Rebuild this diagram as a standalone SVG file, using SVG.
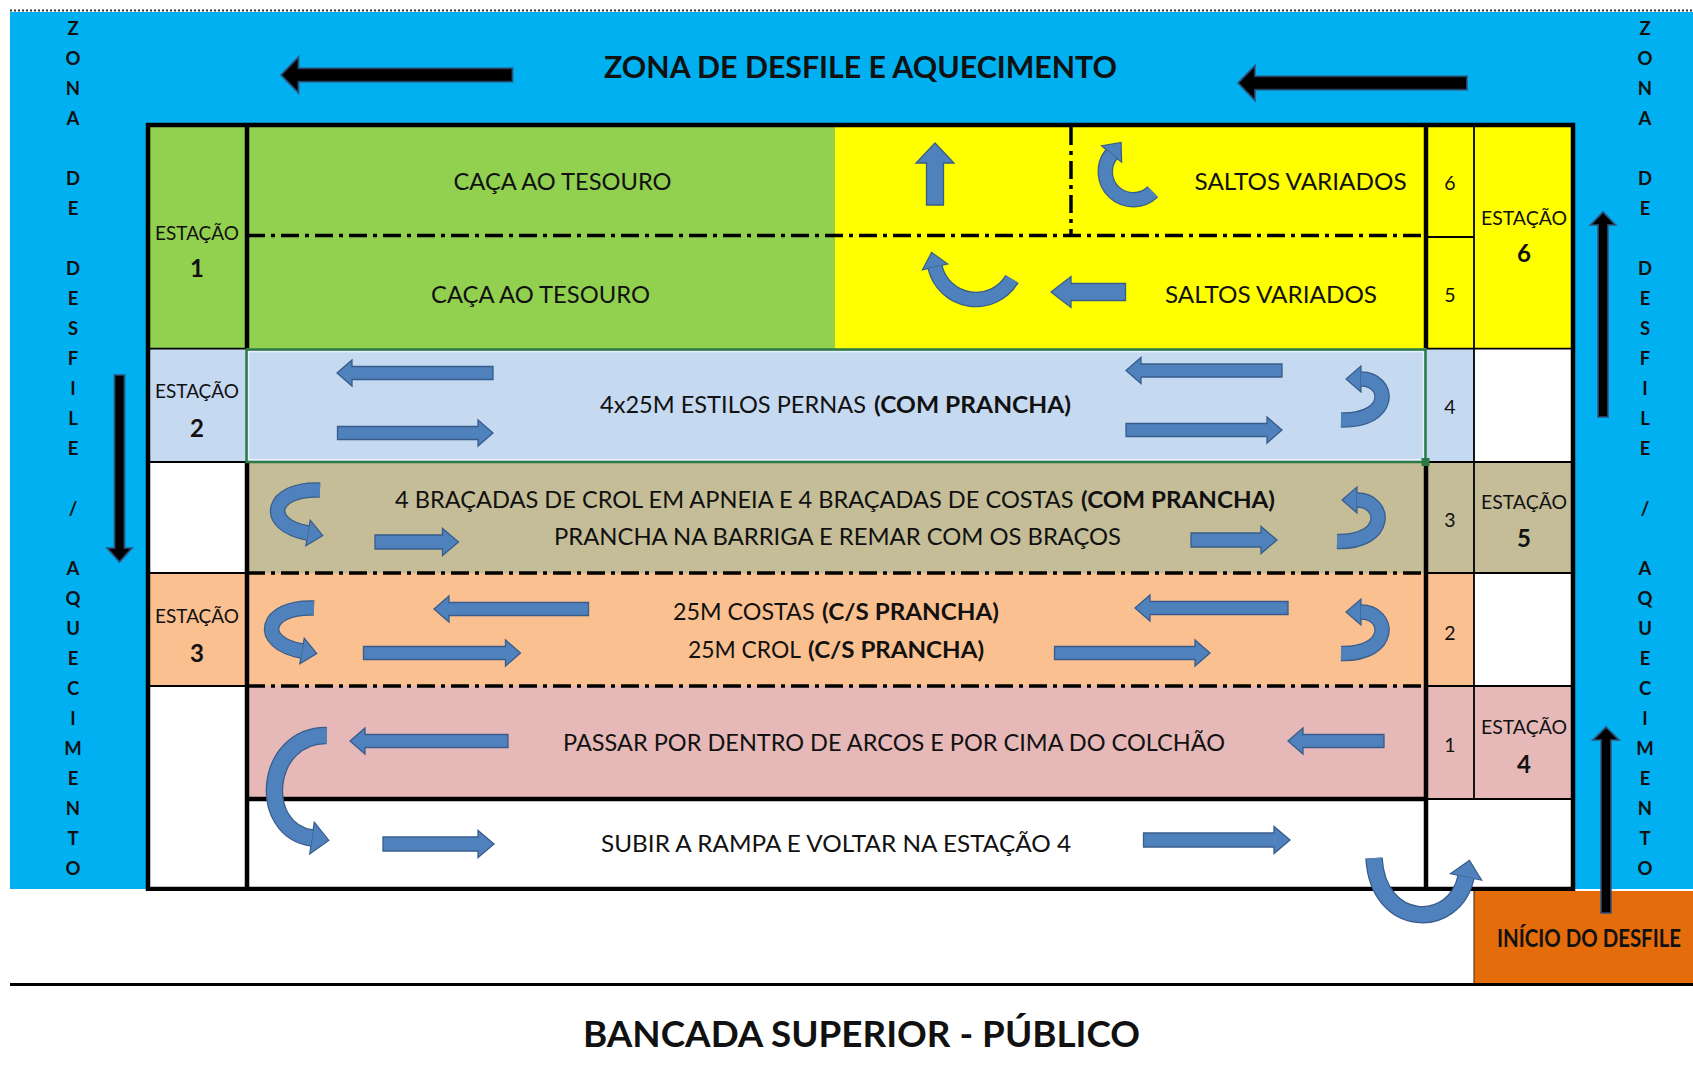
<svg xmlns="http://www.w3.org/2000/svg" width="1693" height="1073" viewBox="0 0 1693 1073">
<style>
text{font-family:Lato,"Open Sans","Liberation Sans",sans-serif;fill:#111}
.t{font-size:23px}
.b{font-weight:700}
.est{font-size:19px}
.num{font-size:24px;font-weight:700;text-anchor:middle}
.nc{font-size:19.5px;text-anchor:middle}
.vl{font-size:18.5px;font-weight:700;text-anchor:middle}
.thick{stroke:#000;stroke-width:4.5;fill:none}
.thin{stroke:#000;stroke-width:1.8;fill:none}
.dd{stroke:#000;stroke-width:3.5;stroke-dasharray:18 6 4 6;fill:none}
.ba{fill:#4F81BD;stroke:#385D8A;stroke-width:1.3}
.co{fill:none;stroke:#385D8A;stroke-width:15.5;marker-end:url(#hb)}
.ci{fill:none;stroke:#4F81BD;stroke-width:13}
.co2{fill:none;stroke:#385D8A;stroke-width:17.5;marker-end:url(#hb2)}
.ci2{fill:none;stroke:#4F81BD;stroke-width:15}
.bk{fill:#000;stroke:#34507A;stroke-width:2;stroke-opacity:0.75}
.green{fill:#92D050}.yellow{fill:#FFFF00}.lblue{fill:#C5D9F1}.tan{fill:#C4BD97}.peach{fill:#FAC090}.pink{fill:#E6B9B8}.white{fill:#FFFFFF}
</style>
<defs>
<marker id="hb" viewBox="-2 -15 20 30" refX="0" refY="0" markerWidth="20" markerHeight="30" markerUnits="userSpaceOnUse" orient="auto">
<path d="M0,-13 L15,0 L0,13 Z" fill="#4F81BD" stroke="#385D8A" stroke-width="1.2"/>
</marker>
<marker id="hb2" viewBox="-2 -18 22 36" refX="0" refY="0" markerWidth="22" markerHeight="36" markerUnits="userSpaceOnUse" orient="auto">
<path d="M0,-16 L17,0 L0,16 Z" fill="#4F81BD" stroke="#385D8A" stroke-width="1.2"/>
</marker>
</defs>

<g id="background">
<rect x="0" y="0" width="1693" height="1073" fill="#FFFFFF"/>
<rect x="10" y="12" width="1683" height="877" fill="#00B0F0"/>
<line x1="10" y1="10.5" x2="1693" y2="10.5" stroke="#333" stroke-width="2" stroke-dasharray="2 2"/>
<rect x="148" y="125" width="1425" height="764" fill="#FFFFFF"/>
</g>

<g id="zona-desfile-aquecimento">
<text x="604" y="78.3" class="b" font-size="30" textLength="513" lengthAdjust="spacingAndGlyphs">ZONA DE DESFILE E AQUECIMENTO</text>
</g>

<g id="zona-lateral-esquerda">
<text class="vl"><tspan x="73" y="34.8">Z</tspan><tspan x="73" y="64.8">O</tspan><tspan x="73" y="94.8">N</tspan><tspan x="73" y="124.8">A</tspan><tspan x="73" y="184.8">D</tspan><tspan x="73" y="214.8">E</tspan><tspan x="73" y="274.8">D</tspan><tspan x="73" y="304.8">E</tspan><tspan x="73" y="334.8">S</tspan><tspan x="73" y="364.8">F</tspan><tspan x="73" y="394.8">I</tspan><tspan x="73" y="424.8">L</tspan><tspan x="73" y="454.8">E</tspan><tspan x="73" y="514.8">/</tspan><tspan x="73" y="574.8">A</tspan><tspan x="73" y="604.8">Q</tspan><tspan x="73" y="634.8">U</tspan><tspan x="73" y="664.8">E</tspan><tspan x="73" y="694.8">C</tspan><tspan x="73" y="724.8">I</tspan><tspan x="73" y="754.8">M</tspan><tspan x="73" y="784.8">E</tspan><tspan x="73" y="814.8">N</tspan><tspan x="73" y="844.8">T</tspan><tspan x="73" y="874.8">O</tspan></text>
</g>

<g id="zona-lateral-direita">
<text class="vl"><tspan x="1645" y="34.8">Z</tspan><tspan x="1645" y="64.8">O</tspan><tspan x="1645" y="94.8">N</tspan><tspan x="1645" y="124.8">A</tspan><tspan x="1645" y="184.8">D</tspan><tspan x="1645" y="214.8">E</tspan><tspan x="1645" y="274.8">D</tspan><tspan x="1645" y="304.8">E</tspan><tspan x="1645" y="334.8">S</tspan><tspan x="1645" y="364.8">F</tspan><tspan x="1645" y="394.8">I</tspan><tspan x="1645" y="424.8">L</tspan><tspan x="1645" y="454.8">E</tspan><tspan x="1645" y="514.8">/</tspan><tspan x="1645" y="574.8">A</tspan><tspan x="1645" y="604.8">Q</tspan><tspan x="1645" y="634.8">U</tspan><tspan x="1645" y="664.8">E</tspan><tspan x="1645" y="694.8">C</tspan><tspan x="1645" y="724.8">I</tspan><tspan x="1645" y="754.8">M</tspan><tspan x="1645" y="784.8">E</tspan><tspan x="1645" y="814.8">N</tspan><tspan x="1645" y="844.8">T</tspan><tspan x="1645" y="874.8">O</tspan></text>
</g>

<g id="estacao-1">
<rect x="148" y="125" width="99" height="224" class="green"/>
<text x="155" y="240" class="est" textLength="84" lengthAdjust="spacingAndGlyphs">ESTAÇÃO</text>
<text x="197" y="277" class="num">1</text>
</g>
<g id="estacao-2">
<rect x="148" y="349" width="99" height="113" class="lblue"/>
<text x="155" y="398" class="est" textLength="84" lengthAdjust="spacingAndGlyphs">ESTAÇÃO</text>
<text x="197" y="437" class="num">2</text>
</g>
<g id="estacao-3">
<rect x="148" y="573" width="99" height="113" class="peach"/>
<text x="155" y="623" class="est" textLength="84" lengthAdjust="spacingAndGlyphs">ESTAÇÃO</text>
<text x="197" y="662" class="num">3</text>
</g>

<g id="linha-6">
<rect x="247" y="125" width="588" height="111" class="green"/>
<rect x="835" y="125" width="591" height="111" class="yellow"/>
<rect x="1426" y="125" width="48" height="112" class="yellow"/>
<text x="453.5" y="190" class="t" textLength="218" lengthAdjust="spacingAndGlyphs">CAÇA AO TESOURO</text>
<text x="1194.6" y="190" class="t" textLength="212" lengthAdjust="spacingAndGlyphs">SALTOS VARIADOS</text>
<text x="1450" y="190" class="nc">6</text>
</g>
<g id="linha-5">
<rect x="247" y="236" width="588" height="113" class="green"/>
<rect x="835" y="236" width="591" height="113" class="yellow"/>
<rect x="1426" y="237" width="48" height="112" class="yellow"/>
<text x="431" y="303" class="t" textLength="219" lengthAdjust="spacingAndGlyphs">CAÇA AO TESOURO</text>
<text x="1165" y="303" class="t" textLength="212" lengthAdjust="spacingAndGlyphs">SALTOS VARIADOS</text>
<text x="1450" y="302" class="nc">5</text>
</g>
<g id="linha-4">
<rect x="247" y="349" width="1179" height="113" class="lblue"/>
<rect x="1426" y="349" width="48" height="113" class="lblue"/>
<text x="600" y="413" class="t" textLength="266" lengthAdjust="spacingAndGlyphs">4x25M ESTILOS PERNAS</text>
<text x="874" y="413" class="t b" textLength="197" lengthAdjust="spacingAndGlyphs">(COM PRANCHA)</text>
<text x="1450" y="414" class="nc">4</text>
</g>
<g id="linha-3">
<rect x="247" y="462" width="1179" height="111" class="tan"/>
<rect x="1426" y="462" width="48" height="111" class="tan"/>
<text x="395" y="508" class="t" textLength="678.6" lengthAdjust="spacingAndGlyphs">4 BRAÇADAS DE CROL EM APNEIA E 4 BRAÇADAS DE COSTAS</text>
<text x="1081" y="508" class="t b" textLength="194" lengthAdjust="spacingAndGlyphs">(COM PRANCHA)</text>
<text x="554" y="545" class="t" textLength="567" lengthAdjust="spacingAndGlyphs">PRANCHA NA BARRIGA E REMAR COM OS BRAÇOS</text>
<text x="1450" y="527" class="nc">3</text>
</g>
<g id="linha-2">
<rect x="247" y="573" width="1179" height="113" class="peach"/>
<rect x="1426" y="573" width="48" height="113" class="peach"/>
<text x="673" y="620" class="t" textLength="141.5" lengthAdjust="spacingAndGlyphs">25M COSTAS</text>
<text x="822" y="620" class="t b" textLength="177" lengthAdjust="spacingAndGlyphs">(C/S PRANCHA)</text>
<text x="688" y="658" class="t" textLength="113" lengthAdjust="spacingAndGlyphs">25M CROL</text>
<text x="808" y="658" class="t b" textLength="176" lengthAdjust="spacingAndGlyphs">(C/S PRANCHA)</text>
<text x="1450" y="640" class="nc">2</text>
</g>
<g id="linha-1">
<rect x="247" y="686" width="1179" height="113" class="pink"/>
<rect x="1426" y="686" width="48" height="113" class="pink"/>
<text x="563" y="751" class="t" textLength="662" lengthAdjust="spacingAndGlyphs">PASSAR POR DENTRO DE ARCOS E POR CIMA DO COLCHÃO</text>
<text x="1450" y="752" class="nc">1</text>
</g>
<g id="rampa">
<text x="601" y="852" class="t" textLength="470" lengthAdjust="spacingAndGlyphs">SUBIR A RAMPA E VOLTAR NA ESTAÇÃO 4</text>
</g>

<g id="estacao-6">
<rect x="1474" y="125" width="99" height="224" class="yellow"/>
<text x="1481" y="225" class="est" textLength="86" lengthAdjust="spacingAndGlyphs">ESTAÇÃO</text>
<text x="1524" y="262" class="num">6</text>
</g>
<g id="estacao-5">
<rect x="1474" y="462" width="99" height="111" class="tan"/>
<text x="1481" y="509" class="est" textLength="86" lengthAdjust="spacingAndGlyphs">ESTAÇÃO</text>
<text x="1524" y="547" class="num">5</text>
</g>
<g id="estacao-4">
<rect x="1474" y="686" width="99" height="113" class="pink"/>
<text x="1481" y="734" class="est" textLength="86" lengthAdjust="spacingAndGlyphs">ESTAÇÃO</text>
<text x="1524" y="773" class="num">4</text>
</g>

<g id="grelha">
<line x1="247" y1="235.5" x2="1426" y2="235.5" class="dd"/>
<line x1="1071" y1="127" x2="1071" y2="235" class="dd"/>
<line x1="247" y1="573" x2="1426" y2="573" class="dd"/>
<line x1="247" y1="686" x2="1426" y2="686" class="dd"/>
<line x1="1474" y1="125" x2="1474" y2="799" class="thin"/>
<line x1="148" y1="348.7" x2="247" y2="348.7" class="thin"/>
<line x1="148" y1="462" x2="247" y2="462" class="thin"/>
<line x1="148" y1="573" x2="247" y2="573" class="thin"/>
<line x1="148" y1="686" x2="247" y2="686" class="thin"/>
<line x1="1426" y1="237" x2="1474" y2="237" class="thin"/>
<line x1="1426" y1="348.7" x2="1573" y2="348.7" class="thin"/>
<line x1="1426" y1="462" x2="1573" y2="462" class="thin"/>
<line x1="1426" y1="573" x2="1573" y2="573" class="thin"/>
<line x1="1426" y1="686" x2="1573" y2="686" class="thin"/>
<line x1="1426" y1="799" x2="1573" y2="799" class="thin"/>
<line x1="247" y1="799" x2="1426" y2="799" class="thick"/>
<line x1="247" y1="125" x2="247" y2="348" class="thick"/>
<line x1="247" y1="463" x2="247" y2="889" class="thick"/>
<line x1="1426" y1="125" x2="1426" y2="348" class="thick"/>
<line x1="1426" y1="463" x2="1426" y2="889" class="thick"/>
<rect x="148" y="125" width="1425" height="764" class="thick" stroke-width="5"/>
<rect x="246.5" y="349.5" width="1179" height="112.5" fill="none" stroke="#2A7A45" stroke-width="2.5"/>
<rect x="248.8" y="351.8" width="1174.4" height="107.9" fill="none" stroke="#FFFFFF" stroke-width="1" stroke-opacity="0.8"/>
<rect x="1421.5" y="458" width="8" height="8" fill="#2A7A45"/>
</g>

<g id="inicio-do-desfile">
<rect x="10" y="891" width="1464" height="93" fill="#FFFFFF"/>
<rect x="1474" y="891" width="219" height="93" fill="#E46C0A"/>
<line x1="1474" y1="891" x2="1474" y2="984" stroke="#5a3a1a" stroke-width="1.2"/>
<text x="1497" y="947" class="b" font-size="25" textLength="184" lengthAdjust="spacingAndGlyphs">INÍCIO DO DESFILE</text>
</g>

<g id="bancada-superior">
<line x1="10" y1="984.5" x2="1693" y2="984.5" stroke="#000" stroke-width="3"/>
<text x="583" y="1047" class="b" font-size="37" textLength="557" lengthAdjust="spacingAndGlyphs">BANCADA SUPERIOR - PÚBLICO</text>
</g>

<g id="conectores">
<polygon class="bk" points="281,75 298.5,57 298.5,68.3 512.5,68.3 512.5,81.7 298.5,81.7 298.5,93"/>
<polygon class="bk" points="1238,83 1255,65.5 1255,76.3 1467,76.3 1467,89.7 1255,89.7 1255,100.5"/>
<polygon class="bk" points="119.5,562 107,548 114.5,548 114.5,375 124.5,375 124.5,548 132,548"/>
<polygon class="bk" points="1603,212 1615.5,225 1608,225 1608,417 1598,417 1598,225 1590.5,225"/>
<polygon class="bk" points="1606,727 1619,740 1611,740 1611,913 1601,913 1601,740 1593,740"/>

<polygon class="ba" points="935,143 954,163 943.5,163 943.5,205 926.5,205 926.5,163 916,163"/>
<polygon class="ba" points="1051,292 1071,276.5 1071,283.5 1125.5,283.5 1125.5,300.5 1071,300.5 1071,307.5"/>
<polygon class="ba" points="337,373 352,360 352,366.5 493,366.5 493,379.5 352,379.5 352,386"/>
<polygon class="ba" points="493,433 478,420 478,426.5 337.5,426.5 337.5,439.5 478,439.5 478,446"/>
<polygon class="ba" points="1126,370.5 1141,357.5 1141,364 1282,364 1282,377 1141,377 1141,383.5"/>
<polygon class="ba" points="1282,430 1267,417 1267,423.5 1126,423.5 1126,436.5 1267,436.5 1267,443"/>
<polygon class="ba" points="458.5,542 442.5,528.5 442.5,535 375,535 375,549 442.5,549 442.5,555.5"/>
<polygon class="ba" points="1277,540 1261,526.5 1261,533 1191,533 1191,547 1261,547 1261,553.5"/>
<polygon class="ba" points="434,609 449,596 449,602.5 588.5,602.5 588.5,615.5 449,615.5 449,622"/>
<polygon class="ba" points="520.5,653 505.5,640 505.5,646.5 363.5,646.5 363.5,659.5 505.5,659.5 505.5,666"/>
<polygon class="ba" points="1135,608 1150,595 1150,601.5 1288,601.5 1288,614.5 1150,614.5 1150,621"/>
<polygon class="ba" points="1210,653 1195,640 1195,646.5 1054.5,646.5 1054.5,659.5 1195,659.5 1195,666"/>
<polygon class="ba" points="350,741 365,728 365,734.5 508,734.5 508,747.5 365,747.5 365,754"/>
<polygon class="ba" points="1288,741 1303,728 1303,734.5 1384,734.5 1384,747.5 1303,747.5 1303,754"/>
<polygon class="ba" points="494,844 478,830.5 478,837 383,837 383,851 478,851 478,857.5"/>
<polygon class="ba" points="1290,840 1274,826.5 1274,833 1143.5,833 1143.5,847 1274,847 1274,853.5"/>

<path class="co" d="M1152.8,191.8 A28,28 0 0 1 1111.6,154"/>
<path class="ci" d="M1152.8,191.8 A28,28 0 0 1 1111.6,154"/>
<path class="co" d="M1012,279 A42,42 0 0 1 935,267"/>
<path class="ci" d="M1012,279 A42,42 0 0 1 935,267"/>
<path class="co" d="M1341,420 C1394,421 1390,379 1361,379"/>
<path class="ci" d="M1341,420 C1394,421 1390,379 1361,379"/>
<path class="co" d="M1337,541.5 C1390,542.5 1386,500 1357,500"/>
<path class="ci" d="M1337,541.5 C1390,542.5 1386,500 1357,500"/>
<path class="co" d="M1341,653.5 C1394,654.5 1390,612 1361,612"/>
<path class="ci" d="M1341,653.5 C1394,654.5 1390,612 1361,612"/>
<path class="co" d="M320,490 C270,488 262,525 308,533"/>
<path class="ci" d="M320,490 C270,488 262,525 308,533"/>
<path class="co" d="M314,608 C264,606 256,643 302,651"/>
<path class="ci" d="M314,608 C264,606 256,643 302,651"/>
<path class="co2" d="M326.7,735.5 C264,735 256,830 312,838"/>
<path class="ci2" d="M326.7,735.5 C264,735 256,830 312,838"/>
<path class="co2" d="M1374,858 C1378,930 1455,930 1466,877"/>
<path class="ci2" d="M1374,858 C1378,930 1455,930 1466,877"/>
</g>
</svg>
